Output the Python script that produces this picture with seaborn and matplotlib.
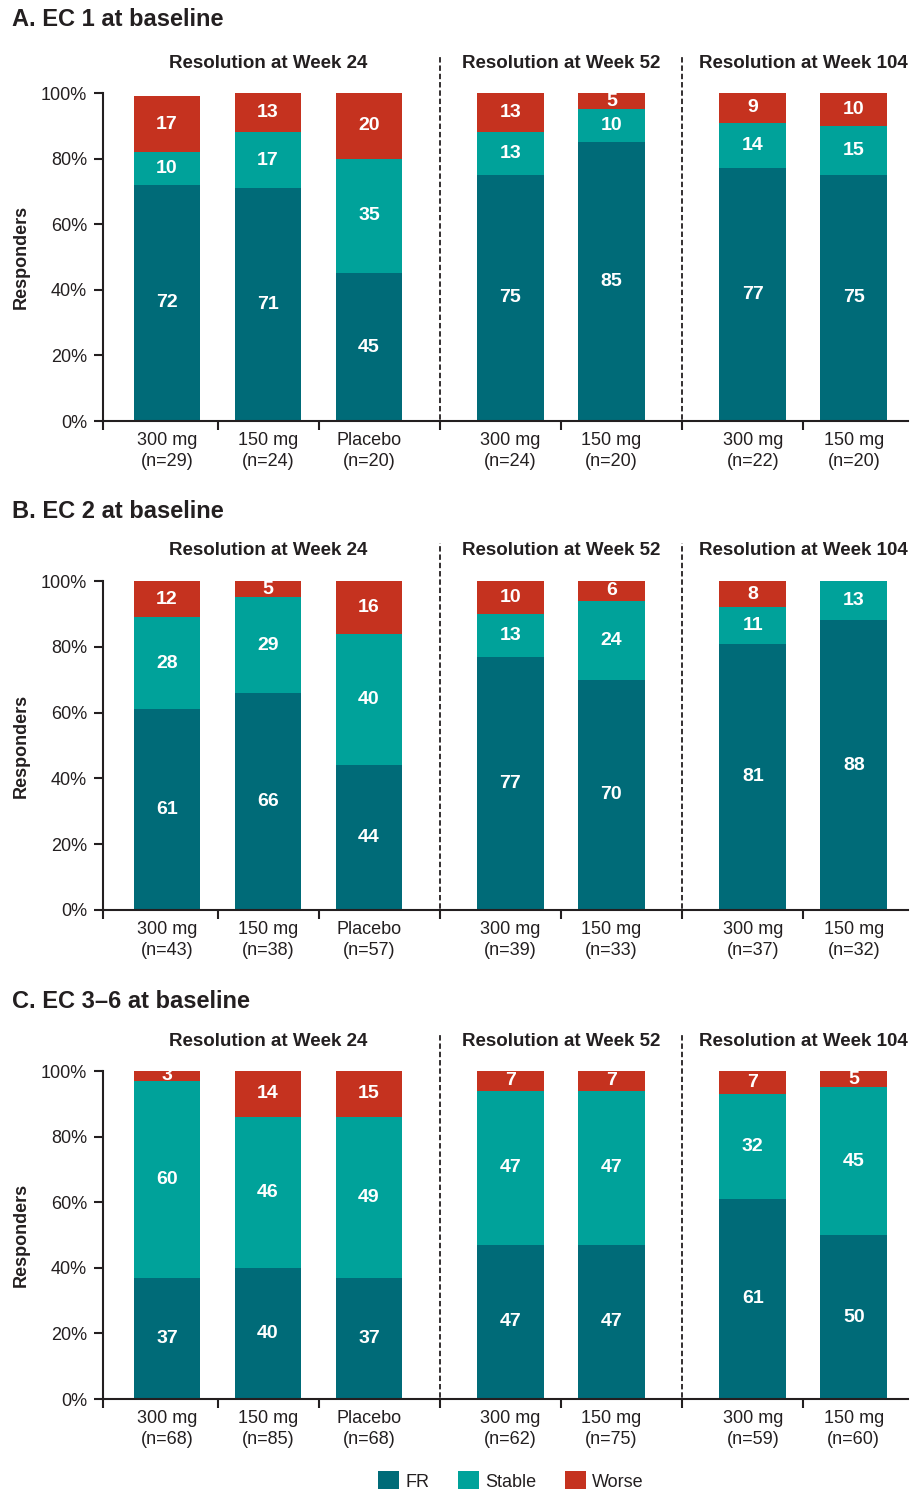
import numpy as np
import pandas as pd
import matplotlib
matplotlib.use("Agg")
import matplotlib.pyplot as plt
from matplotlib.patches import Patch
from matplotlib.ticker import FixedLocator, FixedFormatter, NullFormatter
import seaborn as sns

# ---- data -----------------------------------------------------------------
panel_titles = ["A. EC 1 at baseline", "B. EC 2 at baseline", "C. EC 3\u20136 at baseline"]
timepoints = ["Resolution at Week 24", "Resolution at Week 52", "Resolution at Week 104"]
group_sizes = [3, 2, 2]
arms = ["300 mg", "150 mg", "Placebo", "300 mg", "150 mg", "300 mg", "150 mg"]
categories = ["FR", "Stable", "Worse"]

n_a = [29, 24, 20, 24, 20, 22, 20]
n_b = [43, 38, 57, 39, 33, 37, 32]
n_c = [68, 85, 68, 62, 75, 59, 60]

fr_a = [72, 71, 45, 75, 85, 77, 75]
stable_a = [10, 17, 35, 13, 10, 14, 15]
worse_a = [17, 13, 20, 13, 5, 9, 10]

fr_b = [61, 66, 44, 77, 70, 81, 88]
stable_b = [28, 29, 40, 13, 24, 11, 13]
worse_b = [12, 5, 16, 10, 6, 8, 0]

fr_c = [37, 40, 37, 47, 47, 61, 50]
stable_c = [60, 46, 49, 47, 47, 32, 45]
worse_c = [3, 14, 15, 7, 7, 7, 5]

yticks = [0, 20, 40, 60, 80, 100]
ytick_labels = ["0%", "20%", "40%", "60%", "80%", "100%"]

# ---- style ----------------------------------------------------------------
sns.set_theme(style="ticks")
plt.rcParams["font.family"] = ["Liberation Sans", "DejaVu Sans"]
INK = "#231f20"
colors = {"FR": "#006b78", "Stable": "#00a29a", "Worse": "#c5321f"}

W, H = 911, 1490
fig = plt.figure(figsize=(W / 100, H / 100), dpi=100)


def px_axes(left, top, right, bottom):
    return fig.add_axes([left / W, 1 - bottom / H, (right - left) / W, (bottom - top) / H])


# bar slots: bars inside a timepoint are one unit apart, timepoints get an extra gap
gap = 0.4
xpos = []
offset = 0.0
for size in group_sizes:
    for i in range(size):
        xpos.append(offset + i)
    offset += size + gap
xpos = np.array(xpos)
boundaries = (xpos[:-1] + xpos[1:]) / 2
starts = np.cumsum([0] + group_sizes[:-1])
dividers = [(xpos[s - 1] + xpos[s]) / 2 for s in starts[1:]]
centers = [xpos[s:s + n].mean() for s, n in zip(starts, group_sizes)]
xmin, xmax = xpos[0] - 0.634, xpos[-1] + 0.537

panels = [
    (panel_titles[0], n_a, fr_a, stable_a, worse_a, 20, 93, 421),
    (panel_titles[1], n_b, fr_b, stable_b, worse_b, 512, 581, 910),
    (panel_titles[2], n_c, fr_c, stable_c, worse_c, 1002, 1071, 1399),
]

for title, n, fr, stable, worse, title_y, top, bottom in panels:
    ax = px_axes(103, top, 908, bottom)
    fr = np.array(fr)
    stable = np.array(stable)
    worse = np.array(worse)
    df = pd.DataFrame({
        "x": xpos,
        "FR": fr,
        "Stable": fr + stable,
        "Worse": fr + stable + worse,
    })
    # stacked bars: draw cumulative totals from the tallest layer down
    for cat in ["Worse", "Stable", "FR"]:
        sns.barplot(data=df, x="x", y=cat, native_scale=True, color=colors[cat],
                    saturation=1, width=0.66, linewidth=0, errorbar=None, ax=ax)

    # segment value labels
    for x, f, s, w in zip(xpos, fr, stable, worse):
        for base, val in ((0, f), (f, s), (f + s, w)):
            if val > 0:
                yc = base + val / 2
                if base + val > 100:
                    yc = base + (100 - base) / 2
                ax.text(x, yc, f"{val}", ha="center", va="center", color="white",
                        fontsize=14, fontweight="bold")

    ax.set_xlim(xmin, xmax)
    ax.set_ylim(0, 100)
    ax.set_xlabel("")
    ax.set_ylabel("Responders", fontsize=13, fontweight="bold", color=INK)
    ax.yaxis.set_label_coords(-0.091, 0.5)

    ax.set_yticks(yticks)
    ax.set_yticklabels(ytick_labels)
    ax.tick_params(axis="y", direction="out", length=6.5, width=1.5, color=INK,
                   labelsize=13, labelcolor=INK, pad=5)

    ax.xaxis.set_major_locator(FixedLocator([xmin] + list(boundaries)))
    ax.xaxis.set_major_formatter(NullFormatter())
    ax.xaxis.set_minor_locator(FixedLocator(xpos))
    ax.xaxis.set_minor_formatter(FixedFormatter([f"{a}\n(n={k})" for a, k in zip(arms, n)]))
    ax.tick_params(axis="x", which="major", direction="out", length=6.5, width=1.5, color=INK)
    ax.tick_params(axis="x", which="minor", length=0, labelsize=13, labelcolor=INK, pad=8)
    for lab in ax.xaxis.get_minorticklabels():
        lab.set_linespacing(1.3)

    sns.despine(ax=ax)
    for side in ("left", "bottom"):
        ax.spines[side].set_linewidth(1.5)
        ax.spines[side].set_color(INK)

    for d in dividers:
        ax.plot([d, d], [-0.021, 1.116], transform=ax.get_xaxis_transform(), clip_on=False,
                color=INK, lw=1.3, linestyle=(0, (3, 1.6)))
    for c, tp in zip(centers, timepoints):
        ax.text(c, 1 + 30 / 328, tp, transform=ax.get_xaxis_transform(), ha="center",
                va="center", fontsize=13.5, fontweight="bold", color=INK)

    fig.text(12 / W, 1 - title_y / H, title, ha="left", va="center", fontsize=17,
             fontweight="bold", color=INK)

handles = [Patch(facecolor=colors[c], edgecolor="none", label=c) for c in categories]
fig.legend(handles=handles, loc="center", bbox_to_anchor=(511 / W, 1 - 1481 / H), ncol=3,
           frameon=False, fontsize=13, handlelength=1.15, handleheight=1.15,
           handletextpad=0.35, columnspacing=1.6, labelcolor=INK)

fig.savefig("out.png", dpi=100)
